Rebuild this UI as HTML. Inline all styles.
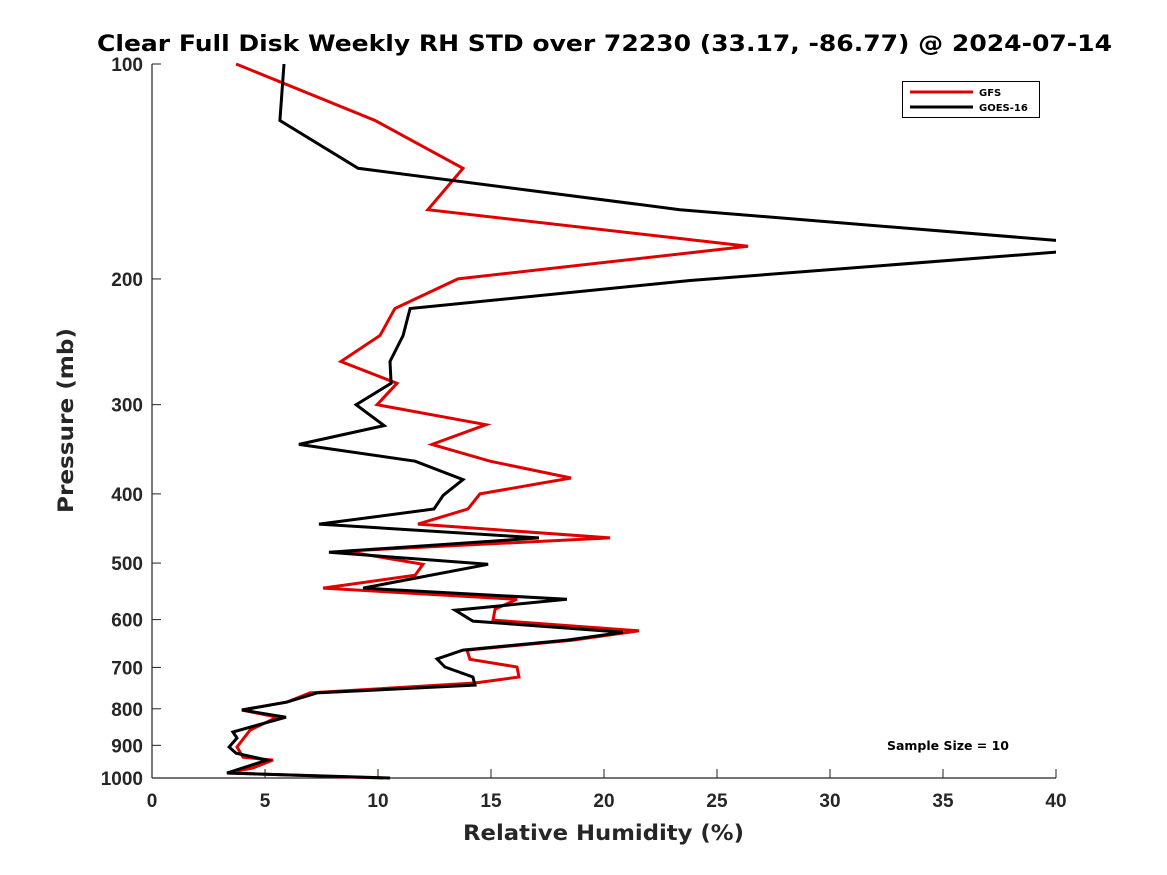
<!DOCTYPE html>
<html><head><meta charset="utf-8">
<style>
html,body{margin:0;padding:0;background:#fff;}
svg{display:block;font-family:"Liberation Sans","DejaVu Sans",sans-serif;}
.dv{font-family:"DejaVu Sans","Liberation Sans",sans-serif;}
</style></head>
<body>
<svg id="chart" width="1167" height="875" viewBox="0 0 1167 875" xmlns="http://www.w3.org/2000/svg">
<rect width="1167" height="875" fill="#fff"/>
<text class="dv" x="97" y="51" textLength="1015" lengthAdjust="spacingAndGlyphs" font-size="22" font-weight="bold" fill="#000">Clear Full Disk Weekly RH STD over 72230 (33.17, -86.77) @ 2024-07-14</text>
<g id="axes"></g>
<g id="series"></g>
<g>
<rect x="902.5" y="81.5" width="137" height="36" fill="#fff" stroke="#000" stroke-width="1"/>
<line x1="910" y1="92" x2="973" y2="92" stroke="#e00000" stroke-width="3"/>
<text class="dv" x="979" y="96" font-size="10" font-weight="bold">GFS</text>
<line x1="910" y1="107" x2="973" y2="107" stroke="#000" stroke-width="3"/>
<text class="dv" x="979" y="111" font-size="10" font-weight="bold">GOES-16</text>
</g>
<text class="dv" x="887" y="750" textLength="122" lengthAdjust="spacingAndGlyphs" font-size="12" font-weight="bold">Sample Size = 10</text>
<text class="dv" x="463" y="840" textLength="281" lengthAdjust="spacingAndGlyphs" font-size="21" font-weight="bold" fill="#262626">Relative Humidity (%)</text>
<text class="dv" transform="translate(73,513) rotate(-90)" textLength="185" lengthAdjust="spacingAndGlyphs" font-size="21" font-weight="bold" fill="#262626">Pressure (mb)</text>
</svg>
<script>
const xTicks = [0,5,10,15,20,25,30,35,40];
const yTicks = [100,200,300,400,500,600,700,800,900,1000];
const gfsPressure = [100,120,140,160,180,200,220,240,261,280,300,320,341,360,380,400,420,441,461,481,502,520,542,562,580,601,622,641,662,682,699,722,736,760,783,803,822,857,905,935,944,968,984,1000];
const gfsRH = [3.72,9.87,13.76,12.21,26.37,13.54,10.75,10.09,8.36,10.84,9.96,14.78,12.39,14.96,18.54,14.51,13.98,11.77,20.27,8.54,11.99,11.64,7.57,16.15,15.18,15.09,21.55,18.63,13.94,14.07,16.15,16.24,14.29,6.99,5.97,3.98,5.53,4.34,3.76,4.03,5.35,4.47,3.32,10.22];
const goesPressure = [100,120,140,160,177,183,201,220,240,261,280,300,321,341,360,382,402,420,441,461,483,502,542,562,582,603,625,641,662,681,699,722,741,760,783,803,822,862,879,905,923,944,984,1000];
const goesRH = [5.84,5.66,9.12,23.36,40.4,40.4,23.81,11.42,11.11,10.53,10.58,9.03,10.27,6.5,11.64,13.76,12.88,12.48,7.39,17.12,7.83,14.87,9.34,18.36,13.41,14.2,20.84,18.36,13.76,12.61,12.96,14.2,14.29,7.3,5.97,3.98,5.93,3.58,3.76,3.41,3.72,5.09,3.32,10.53];

const X0=152, X1=1056, Y0=64, Y1=778;
function xScale(v){return X0+(v-0)/40*(X1-X0);}
function yScale(p){return Y0+(Math.log10(p)-2)*(Y1-Y0);}
const NS="http://www.w3.org/2000/svg";
const axes=document.getElementById('axes');
const series=document.getElementById('series');
function mk(tag,attrs,parent){const e=document.createElementNS(NS,tag);for(const k in attrs)e.setAttribute(k,attrs[k]);parent.appendChild(e);return e;}

const defs=mk('defs',{},series);
const cp=mk('clipPath',{id:'plotclip'},defs);
mk('rect',{x:X0-5,y:Y0-5,width:X1-X0+5,height:Y1-Y0+10},cp);

const yl=mk('line',{x1:X0,y1:Y0,x2:X0,y2:Y1,stroke:'#222','stroke-width':1.2},axes);


const xl=mk('line',{x1:X0,y1:Y1,x2:X1,y2:Y1,stroke:'#222','stroke-width':1.2},axes);



xTicks.forEach(v=>{
  const x=xScale(v);
  const t=mk('line',{x1:x,y1:Y1,x2:x,y2:Y1-9,stroke:'#222','stroke-width':1},axes);
  
  
  const l=mk('text',{x:x,y:Y1+29,'text-anchor':'middle','font-size':19,'font-weight':'bold',fill:'#262626'},axes);
  l.textContent=v;
  
  
});
yTicks.forEach(p=>{
  const y=yScale(p);
  const t=mk('line',{x1:X0,y1:y,x2:X0+9,y2:y,stroke:'#222','stroke-width':1},axes);
  
  
  const l=mk('text',{x:X0-9,y:y+7,'text-anchor':'end','font-size':19,'font-weight':'bold',fill:'#262626'},axes);
  l.textContent=p;
  
  
});

function drawLine(rh,pr,color,name){
  const pts=rh.map((v,i)=>xScale(v).toFixed(1)+','+yScale(pr[i]).toFixed(1)).join(' ');
  const pl=mk('polyline',{points:pts,fill:'none',stroke:color,'stroke-width':3,'stroke-linejoin':'miter','clip-path':'url(#plotclip)'},series);
  
  
}
drawLine(gfsRH,gfsPressure,'#e00000','gfs-line');
drawLine(goesRH,goesPressure,'#000','goes16-line');
</script>
</body></html>
